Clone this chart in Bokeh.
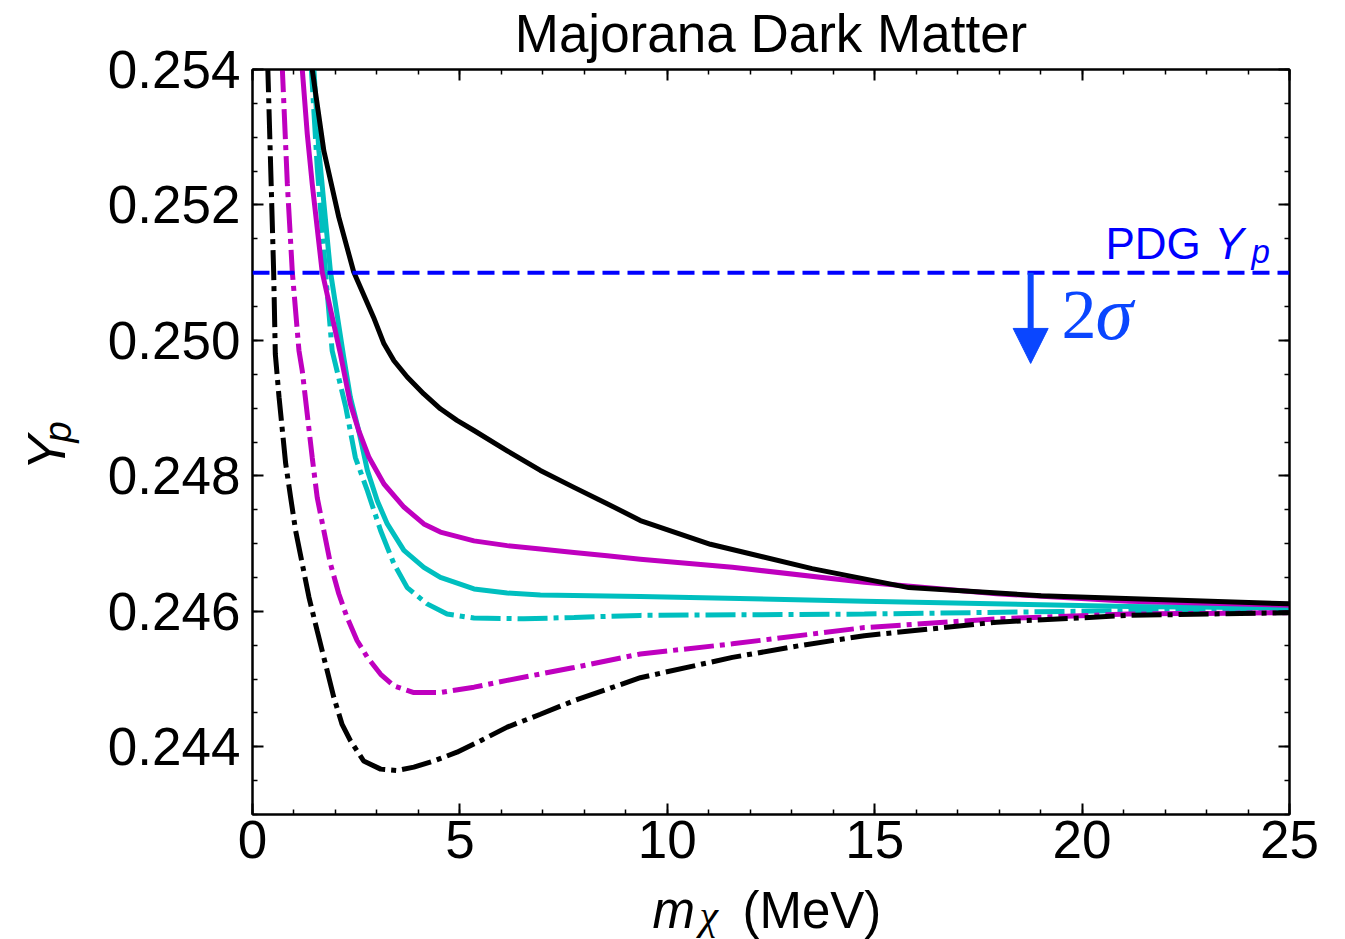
import math
from bokeh.plotting import figure
from bokeh.layouts import column, row
from bokeh.models import (Range1d, LinearAxis, SingleIntervalTicker, PrintfTickFormatter,
                          CustomJSTickFormatter, Label, Span, Arrow, NormalHead)
from bokeh.embed import file_html
from bokeh.resources import INLINE

# ---------------- data ----------------
title_text = "Majorana Dark Matter"
pdg_yp = 0.251          # PDG Y_p upper bound (dashed line)
arrow_x = 18.76         # x position of the 2 sigma arrow
arrow_tip = 0.24966     # y of the arrow tip

# black solid
bs_x = [1.30, 1.44, 1.72, 2.08, 2.44, 2.92, 3.17, 3.41, 3.73, 4.13, 4.53, 4.93, 5.34, 6.14, 6.94, 7.75, 8.55,
        9.35, 11.04, 13.49, 15.82, 19.01, 25.0]
bs_y = [0.2547, 0.2540, 0.25280, 0.25182, 0.25101, 0.25034, 0.24995, 0.24970, 0.24946, 0.24921, 0.24899, 0.24882,
        0.24867, 0.24837, 0.24808, 0.24783, 0.24759, 0.24734, 0.24699, 0.24663, 0.24635, 0.24623, 0.24611]
# magenta solid
ms_x = [1.08, 1.20, 1.32, 1.44, 1.68, 2.12, 2.36, 2.56, 2.81, 3.17, 3.65, 4.13, 4.53, 5.34, 6.14, 6.94, 7.75,
        8.55, 9.35, 11.57, 14.75, 17.94, 21.13, 25.0]
ms_y = [0.2548, 0.2540, 0.25305, 0.25231, 0.25101, 0.24980, 0.24906, 0.24867, 0.24827, 0.24788, 0.24754, 0.24729,
        0.24717, 0.24704, 0.24697, 0.24692, 0.24687, 0.24682, 0.24677, 0.24665, 0.24643, 0.24626, 0.24615, 0.24609]
# cyan solid
cs_x = [1.36, 1.48, 1.60, 1.88, 2.20, 2.36, 2.56, 2.77, 3.01, 3.25, 3.65, 4.13, 4.53, 5.34, 6.14, 6.94, 9.35,
        14.75, 21.13, 25.0]
cs_y = [0.2548, 0.2540, 0.25280, 0.25101, 0.24975, 0.24916, 0.24867, 0.24808, 0.24763, 0.24729, 0.24690, 0.24665,
        0.24650, 0.24633, 0.24627, 0.24624, 0.24622, 0.24615, 0.24607, 0.24605]
# cyan dash-dot
cd_x = [1.30, 1.42, 1.56, 1.76, 1.92, 2.25, 2.48, 2.77, 3.09, 3.41, 3.73, 4.21, 4.69, 5.34, 6.54, 7.75, 9.35,
        14.75, 21.13, 25.0]
cd_y = [0.2548, 0.2540, 0.25256, 0.25101, 0.24985, 0.24901, 0.24827, 0.24778, 0.24719, 0.24670, 0.24635, 0.24611,
        0.24596, 0.24590, 0.24589, 0.24591, 0.24594, 0.24596, 0.24601, 0.24603]
# magenta dash-dot
md_x = [0.62, 0.72, 0.84, 0.96, 1.12, 1.20, 1.32, 1.44, 1.56, 1.72, 1.88, 2.08, 2.28, 2.52, 2.77, 3.09, 3.41,
        3.89, 4.53, 5.34, 6.14, 7.75, 9.35, 11.57, 14.75, 17.94, 21.13, 25.0]
md_y = [0.2548, 0.2540, 0.25231, 0.25101, 0.24985, 0.24955, 0.24891, 0.24827, 0.24768, 0.24719, 0.24670, 0.24626,
        0.24591, 0.24557, 0.24532, 0.24507, 0.24490, 0.24480, 0.24480, 0.24488, 0.24498, 0.24517, 0.24537, 0.24552,
        0.24576, 0.24589, 0.24596, 0.24598]
# black dash-dot
kd_x = [0.30, 0.37, 0.45, 0.51, 0.55, 0.64, 0.72, 0.80, 0.92, 1.04, 1.20, 1.36, 1.56, 1.76, 1.96, 2.16, 2.36,
        2.68, 3.09, 3.49, 3.89, 4.37, 4.93, 5.50, 6.14, 6.94, 7.75, 8.55, 9.35, 11.57, 13.16, 14.75, 17.94, 21.13, 25.0]
kd_y = [0.2548, 0.2540, 0.25231, 0.25101, 0.24980, 0.24916, 0.24867, 0.24818, 0.24768, 0.24719, 0.24670, 0.24621,
        0.24571, 0.24522, 0.24473, 0.24433, 0.24409, 0.24379, 0.24367, 0.24365, 0.24370, 0.24379, 0.24392, 0.24409,
        0.24429, 0.24448, 0.24468, 0.24485, 0.24502, 0.24532, 0.24549, 0.24564, 0.24584, 0.24594, 0.24598]

# ---------------- layout geometry (page pixels) ----------------
W, H = 1345, 939
YLAB_W = 100          # width of the y-label strip
MAIN_BOTTOM = 881     # bottom edge of the main figure on the page
FRAME_L, FRAME_R, FRAME_T, FRAME_B = 252, 1289, 69, 814
MID = 0.35            # offset (in em) from alphabetic baseline to the label anchor

FONT = "Liberation Sans"
SERIF = "Liberation Serif"
BLACK = "#000000"
MAG = "#BF00BF"
CYAN = "#00BFBF"
BLUE = "#0000FF"
ARROW_BLUE = "#0A46FF"

main_w = W - YLAB_W
main_h = MAIN_BOTTOM

p = figure(width=main_w, height=main_h, output_backend="svg", toolbar_location=None, title=title_text,
           x_range=Range1d(0, 25), y_range=Range1d(0.243, 0.254),
           x_axis_location=None, y_axis_location=None)
p.title.text_font = FONT
p.title.text_font_size = "53px"
p.title.text_font_style = "normal"
p.title.text_color = "black"
p.title.align = "center"
p.title.vertical_align = "top"
p.title.standoff = 7.5
p.min_border_left = FRAME_L - YLAB_W
p.min_border_right = W - FRAME_R
p.min_border_top = FRAME_T
p.min_border_bottom = MAIN_BOTTOM - FRAME_B
p.background_fill_color = "white"
p.border_fill_color = "white"
p.outline_line_color = "black"
p.outline_line_width = 2
p.grid.visible = False


def style_axis(ax, show_labels):
    ax.axis_line_width = 2
    ax.axis_line_color = "black"
    ax.major_tick_in = 11
    ax.major_tick_out = 0
    ax.minor_tick_in = 5
    ax.minor_tick_out = 0
    ax.major_tick_line_width = 2
    ax.minor_tick_line_width = 1.5
    ax.major_label_text_font = FONT
    ax.major_label_text_color = "black"
    if show_labels:
        ax.major_label_text_font_size = "53px"
    else:
        ax.formatter = CustomJSTickFormatter(code="return ''")
        ax.major_label_text_font_size = "0px"
        ax.major_label_standoff = 0


xb = LinearAxis(ticker=SingleIntervalTicker(interval=5, num_minor_ticks=5))
style_axis(xb, True)
xb.major_label_standoff = 6
p.add_layout(xb, "below")

xtop = LinearAxis(ticker=SingleIntervalTicker(interval=5, num_minor_ticks=5))
style_axis(xtop, False)
p.add_layout(xtop, "above")

yl = LinearAxis(ticker=SingleIntervalTicker(interval=0.002, num_minor_ticks=4),
                formatter=PrintfTickFormatter(format="%.3f"))
style_axis(yl, True)
yl.major_label_standoff = 12
p.add_layout(yl, "left")

yr = LinearAxis(ticker=SingleIntervalTicker(interval=0.002, num_minor_ticks=4))
style_axis(yr, False)
p.add_layout(yr, "right")

# ---------------- curves ----------------
LW = 5
DD = "30 6 5 6"
p.line(cd_x, cd_y, line_color=CYAN, line_width=LW, line_dash=DD)
p.line(cs_x, cs_y, line_color=CYAN, line_width=LW, line_join="round")
p.line(md_x, md_y, line_color=MAG, line_width=LW, line_dash=DD)
p.line(ms_x, ms_y, line_color=MAG, line_width=LW, line_join="round")
p.line(kd_x, kd_y, line_color=BLACK, line_width=LW, line_dash=DD)
p.line(bs_x, bs_y, line_color=BLACK, line_width=LW, line_join="round")

# PDG line and arrow
p.add_layout(Span(location=pdg_yp, dimension="width", line_color=BLUE, line_width=4, line_dash="17 8"))
p.add_layout(Arrow(end=NormalHead(size=35, fill_color=ARROW_BLUE, line_color=ARROW_BLUE, line_width=1),
                   x_start=arrow_x, y_start=pdg_yp, x_end=arrow_x, y_end=arrow_tip,
                   line_color=ARROW_BLUE, line_width=6))


def px_to_x(px):
    return (px - FRAME_L) * 25.0 / (FRAME_R - FRAME_L)


def py_to_y(py):
    return 0.254 - (py - FRAME_T) * 0.011 / (FRAME_B - FRAME_T)


def data_label(text, px, baseline, size, font=FONT, style="normal", color="black"):
    py = baseline - MID * size
    p.add_layout(Label(x=px_to_x(px), y=py_to_y(py), text=text, text_font=font,
                       text_font_size=f"{size}px", text_font_style=style, text_color=color,
                       text_align="left", text_baseline="middle"))


# PDG Y_p
data_label("PDG", 1105, 258, 44, color=BLUE)
data_label("Y", 1214, 258, 44, style="italic", color=BLUE)
data_label("p", 1251, 263, 33, style="italic", color=BLUE)
# 2 sigma
data_label("2", 1061, 339, 70, font=SERIF, color=ARROW_BLUE)
data_label("σ", 1095, 339, 76, font=SERIF, style="italic", color=ARROW_BLUE)


# ---------------- text strips (axis labels) ----------------
def text_fig(w, h):
    f = figure(width=w, height=h, output_backend="svg", toolbar_location=None, title=None,
               x_range=Range1d(0, w), y_range=Range1d(0, h),
               x_axis_location=None, y_axis_location=None, min_border=0)
    f.outline_line_color = None
    f.grid.visible = False
    f.background_fill_color = "white"
    f.border_fill_color = "white"
    return f


def canvas_label(f, text, px, baseline, size, font=FONT, style="normal", color="black", rotated=False):
    if rotated:
        x, y, ang = px - MID * size, baseline, math.pi / 2
    else:
        x, y, ang = px, baseline - MID * size, 0.0
    f.add_layout(Label(x=x, y=y, x_units="canvas", y_units="canvas", text=text, text_font=font,
                       text_font_size=f"{size}px", text_font_style=style, text_color=color,
                       text_align="left", text_baseline="middle", angle=ang))


ylab_fig = text_fig(YLAB_W, main_h)
canvas_label(ylab_fig, "Y", 65, 470, 53, style="italic", rotated=True)
canvas_label(ylab_fig, "p", 71, 442, 38, style="italic", rotated=True)

xlab_h = H - MAIN_BOTTOM
xlab_fig = text_fig(W, xlab_h)
canvas_label(xlab_fig, "m", 652, 927.5 - MAIN_BOTTOM, 51, style="italic")
canvas_label(xlab_fig, "χ", 699, 929 - MAIN_BOTTOM, 42, font=SERIF, style="italic")
canvas_label(xlab_fig, "(MeV)", 742, 927.5 - MAIN_BOTTOM, 51)

layout = column(row(ylab_fig, p), xlab_fig)
open("out.html", "w").write(file_html(layout, INLINE))
